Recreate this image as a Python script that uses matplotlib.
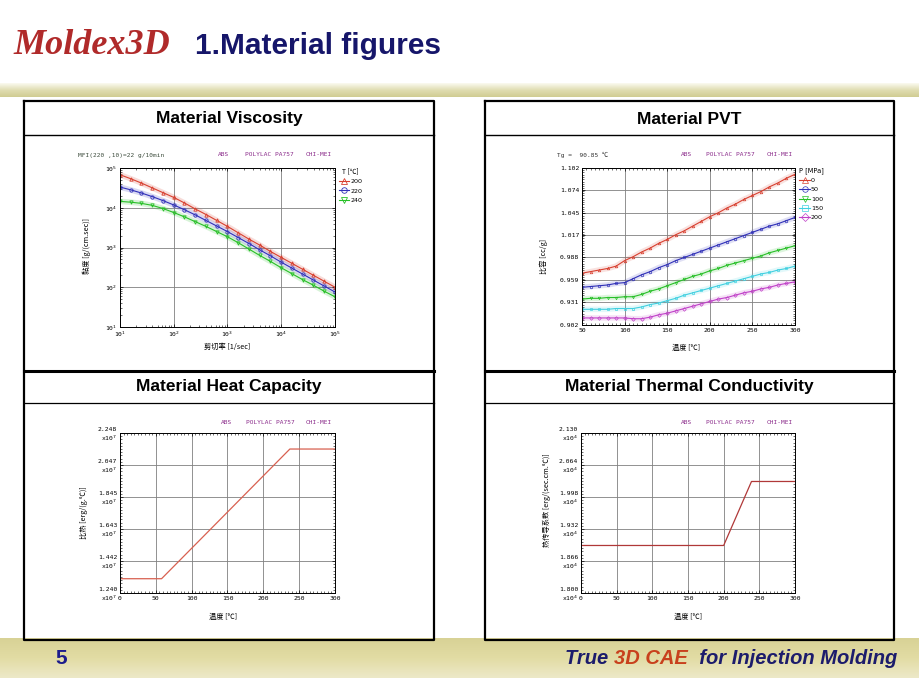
"""
Moldex3D material figures slide: viscosity, PVT, heat capacity, thermal conductivity.
"""

import numpy as np
import matplotlib
matplotlib.use("Agg")
import matplotlib.pyplot as plt
from matplotlib.colors import LinearSegmentedColormap
from matplotlib.ticker import AutoMinorLocator, FixedLocator

CJK = ['Noto Sans CJK SC', 'DejaVu Sans']
MONO = ['DejaVu Sans Mono', 'Noto Sans CJK SC']
PURPLE = '#8a2a8a'

# ---- viscosity (log10 values) ----
shear_rate_log = [1.0, 1.2, 1.4, 1.6, 1.8, 2.0, 2.2, 2.4, 2.6, 2.8, 3.0,
                  3.2, 3.4, 3.6, 3.8, 4.0, 4.2, 4.4, 4.6, 4.8, 5.0]
visc_200_log = [4.83, 4.73, 4.62, 4.50, 4.38, 4.26, 4.12, 3.97, 3.83, 3.68, 3.53,
                3.37, 3.21, 3.06, 2.90, 2.75, 2.60, 2.45, 2.30, 2.15, 2.00]
visc_220_log = [4.52, 4.45, 4.37, 4.28, 4.18, 4.07, 3.95, 3.82, 3.68, 3.54, 3.40,
                3.25, 3.10, 2.94, 2.79, 2.63, 2.48, 2.33, 2.18, 2.03, 1.88]
visc_240_log = [4.16, 4.14, 4.11, 4.06, 3.98, 3.88, 3.77, 3.65, 3.53, 3.40, 3.27,
                3.12, 2.96, 2.80, 2.65, 2.49, 2.34, 2.19, 2.05, 1.90, 1.76]
visc_temps = ['200', '220', '240']

# ---- PVT ----
pvt_temp = [50, 60, 70, 80, 90, 100, 110, 120, 130, 140, 150, 160, 170,
            180, 190, 200, 210, 220, 230, 240, 250, 260, 270, 280, 290, 300]
pvt_p0 = [0.968, 0.970, 0.972, 0.974, 0.977, 0.984, 0.989, 0.995, 1.000, 1.006,
          1.011, 1.017, 1.022, 1.028, 1.034, 1.040, 1.045, 1.051, 1.056, 1.062,
          1.067, 1.072, 1.078, 1.083, 1.089, 1.094]
pvt_p50 = [0.950, 0.951, 0.952, 0.953, 0.955, 0.956, 0.961, 0.966, 0.970, 0.975,
           0.979, 0.984, 0.988, 0.992, 0.996, 1.000, 1.004, 1.008, 1.012, 1.016,
           1.020, 1.024, 1.028, 1.031, 1.035, 1.039]
pvt_p100 = [0.935, 0.936, 0.936, 0.937, 0.937, 0.938, 0.938, 0.941, 0.945, 0.948,
            0.952, 0.956, 0.960, 0.964, 0.967, 0.971, 0.974, 0.978, 0.981, 0.984,
            0.987, 0.990, 0.994, 0.997, 1.000, 1.003]
pvt_p150 = [0.922, 0.922, 0.922, 0.922, 0.923, 0.923, 0.923, 0.925, 0.928, 0.930,
            0.933, 0.936, 0.940, 0.943, 0.946, 0.949, 0.952, 0.955, 0.958, 0.961,
            0.964, 0.967, 0.969, 0.972, 0.974, 0.977]
pvt_p200 = [0.911, 0.911, 0.911, 0.911, 0.911, 0.911, 0.910, 0.910, 0.912, 0.915,
            0.917, 0.920, 0.923, 0.926, 0.929, 0.932, 0.935, 0.937, 0.940, 0.943,
            0.945, 0.948, 0.950, 0.953, 0.955, 0.957]
pvt_pressures = ['0', '50', '100', '150', '200']
pvt_ticks = [0.902, 0.931, 0.959, 0.988, 1.017, 1.045, 1.074, 1.102]

# ---- heat capacity / conductivity ----
cp_temp = [0, 58, 237, 300]
cp_value = [1.330e7, 1.330e7, 2.147e7, 2.147e7]
cp_ticks = [1.240e7, 1.4416e7, 1.6432e7, 1.8448e7, 2.0464e7, 2.248e7]
cp_labels = ['1.240', '1.442', '1.643', '1.845', '2.047', '2.248']

k_temp = [0, 200, 239, 300]
k_value = [1.898e4, 1.898e4, 2.030e4, 2.030e4]
k_ticks = [1.800e4, 1.866e4, 1.932e4, 1.998e4, 2.064e4, 2.130e4]
k_labels = ['1.800', '1.866', '1.932', '1.998', '2.064', '2.130']

W, H = 920, 690


def px_axes(fig, x0, y0, x1, y1):
    return fig.add_axes([x0 / W, 1 - y1 / H, (x1 - x0) / W, (y1 - y0) / H])


def style_axes(ax, linear_x=True, linear_y=True):
    ax.tick_params(which='both', direction='in', top=True, right=True,
                   labelsize=4.6, pad=2, colors='black')
    ax.tick_params(which='major', length=2.5, width=0.5)
    ax.tick_params(which='minor', length=1.5, width=0.4)
    if linear_x:
        ax.xaxis.set_minor_locator(AutoMinorLocator(10))
    if linear_y:
        ax.yaxis.set_minor_locator(AutoMinorLocator(10))
    ax.grid(True, which='major', color='#808080', lw=0.6)
    for sp in ax.spines.values():
        sp.set_linewidth(0.7)
    for lab in ax.get_xticklabels() + ax.get_yticklabels():
        lab.set_family(MONO)


def band(ax, y0, y1, colors):
    cmap = LinearSegmentedColormap.from_list('band', colors)
    grad = np.linspace(0, 1, 64)[:, None]
    ax.imshow(grad, extent=(0, W, y1, y0), cmap=cmap, aspect='auto',
              origin='upper', zorder=0)


def header_text(ax, x_abs, x_poly, x_chi, y):
    ax.text(x_abs, y, 'ABS', color=PURPLE, fontsize=4.4, family=MONO, va='center')
    ax.text(x_poly, y, 'POLYLAC PA757', color=PURPLE, fontsize=4.4, family=MONO, va='center')
    ax.text(x_chi, y, 'CHI-MEI', color=PURPLE, fontsize=4.4, family=MONO, va='center')


fig = plt.figure(figsize=(9.2, 6.9), dpi=100)
bg = fig.add_axes([0, 0, 1, 1])
bg.set_axis_off()

# decorative bands
band(bg, 83, 97, ['#fbfaf0', '#e0ddb2', '#d0cc92'])
band(bg, 638, 678, ['#d8d296', '#e2dca4', '#ede9c8'])

# title + logo
bg.text(13, 46, 'Moldex3D', color='#b02a2a', fontsize=26, family='Liberation Serif',
        style='italic', weight='bold', va='center')
bg.text(195, 46, '1.Material figures', color='#16166a', fontsize=21.5,
        family='Liberation Sans', weight='bold', va='center')

# footer
bg.text(55, 659, '5', color='#1c1c8c', fontsize=15, family='Liberation Sans',
        weight='bold', va='center')
foot = [('True ', '#1c1c6c'), ('3D CAE', '#c8401c'), ('  for Injection Molding', '#1c1c6c')]
x = 565
for txt, col in foot:
    t = bg.text(x, 659, txt, color=col, fontsize=14.5, family='Liberation Sans',
                weight='bold', style='italic', va='center')
    fig.canvas.draw()
    x += t.get_window_extent().width

# panel frames
for x0, x1 in [(24, 434), (485, 894)]:
    bg.plot([x0, x1, x1, x0, x0], [101, 101, 640, 640, 101], color='black', lw=1.6, zorder=3)
    bg.plot([x0, x1], [371, 371], color='black', lw=2.2, zorder=3)
    bg.plot([x0, x1], [135, 135], color='black', lw=1.0, zorder=3)
    bg.plot([x0, x1], [403, 403], color='black', lw=0.9, zorder=3)

for title, xc, yc in [('Material Viscosity', 229, 119), ('Material PVT', 689, 119),
                      ('Material Heat Capacity', 229, 387),
                      ('Material Thermal Conductivity', 689, 387)]:
    bg.text(xc, yc, title, ha='center', va='center', fontsize=12.5,
            family='Liberation Sans', weight='bold', color='black')

# ---- viscosity ----
ax1 = px_axes(fig, 120, 168, 335, 327)
ax1.set_xscale('log')
ax1.set_yscale('log')
xs = 10 ** np.array(shear_rate_log)
for vals, col, mk, lab in [(visc_200_log, '#d84030', '^', visc_temps[0]),
                           (visc_220_log, '#3030b8', 'o', visc_temps[1]),
                           (visc_240_log, '#28c028', 'v', visc_temps[2])]:
    ys = 10 ** np.array(vals)
    ax1.plot(xs, ys, color=col, lw=4, alpha=0.18, solid_capstyle='round')
    ax1.plot(xs, ys, color=col, lw=0.8, marker=mk, ms=2.4, mfc='none', mew=0.6, label=lab)
ax1.set_xlim(10, 1e5)
ax1.set_ylim(10, 1e5)
style_axes(ax1, linear_x=False, linear_y=False)
leg = ax1.legend(title='T [℃]', loc='upper left', bbox_to_anchor=(1.0, 1.03),
                 frameon=False, fontsize=4.6, title_fontsize=4.8, handlelength=1.6,
                 handletextpad=0.2, labelspacing=0.6, borderaxespad=0.2)
leg.get_title().set_family(CJK)
for h in leg.legend_handles:
    h.set_markersize(4)
bg.text(78, 155, 'MFI(220 ,10)=22 g/10min', color='#3a4a3a', fontsize=4.4,
        family=MONO, va='center')
header_text(bg, 218, 245, 306, 155)
bg.text(227, 347, '剪切率 [1/sec]', fontsize=5.2, family=CJK, ha='center', va='center')
bg.text(87, 246, '黏度 [g/(cm.sec)]', fontsize=5.2, family=CJK, ha='center',
        va='center', rotation=90)

# ---- PVT ----
ax2 = px_axes(fig, 582, 168, 795, 325)
pvt_series = [pvt_p0, pvt_p50, pvt_p100, pvt_p150, pvt_p200]
pvt_colors = ['#d84030', '#3030b8', '#28c028', '#40d0e0', '#c040c8']
pvt_markers = ['^', 'o', 'v', 's', 'D']
for vals, col, mk, lab in zip(pvt_series, pvt_colors, pvt_markers, pvt_pressures):
    ax2.plot(pvt_temp, vals, color=col, lw=4, alpha=0.15, solid_capstyle='round')
    ax2.plot(pvt_temp, vals, color=col, lw=0.8, marker=mk, ms=1.8, mfc='none', mew=0.5,
             label=lab)
ax2.set_xlim(50, 300)
ax2.set_ylim(pvt_ticks[0], pvt_ticks[-1])
ax2.set_xticks([50, 100, 150, 200, 250, 300])
ax2.yaxis.set_major_locator(FixedLocator(pvt_ticks))
ax2.set_yticklabels([f'{v:.3f}' for v in pvt_ticks])
style_axes(ax2)
leg2 = ax2.legend(title='P [MPa]', loc='upper left', bbox_to_anchor=(1.0, 1.03),
                  frameon=False, fontsize=4.6, title_fontsize=4.8, handlelength=1.6,
                  handletextpad=0.2, labelspacing=0.6, borderaxespad=0.2)
for h in leg2.legend_handles:
    h.set_markersize(4)
bg.text(557, 155, 'Tg =  90.85 ℃', color='#303030', fontsize=4.4, family=MONO,
        va='center')
header_text(bg, 681, 706, 767, 155)
bg.text(686, 348, '温度 [℃]', fontsize=5.2, family=CJK, ha='center', va='center')
bg.text(544, 256, '比容 [cc/g]', fontsize=5.2, family=CJK, ha='center', va='center',
        rotation=90)

# ---- heat capacity ----
ax3 = px_axes(fig, 120, 433, 335, 593)
ax3.plot(cp_temp, cp_value, color='#d86050', lw=0.9)
ax3.set_xlim(0, 300)
ax3.set_ylim(cp_ticks[0], cp_ticks[-1])
ax3.set_xticks([0, 50, 100, 150, 200, 250, 300])
ax3.yaxis.set_major_locator(FixedLocator(cp_ticks))
ax3.set_yticklabels([f'{s}\nx10$^{{7}}$' for s in cp_labels])
style_axes(ax3)
header_text(bg, 221, 246, 306, 423)
bg.text(223, 617, '温度 [℃]', fontsize=5.2, family=CJK, ha='center', va='center')
bg.text(84, 513, '比热 [erg/(g.℃)]', fontsize=5.2, family=CJK, ha='center',
        va='center', rotation=90)

# ---- thermal conductivity ----
ax4 = px_axes(fig, 581, 433, 795, 593)
ax4.plot(k_temp, k_value, color='#b03838', lw=0.9)
ax4.set_xlim(0, 300)
ax4.set_ylim(k_ticks[0], k_ticks[-1])
ax4.set_xticks([0, 50, 100, 150, 200, 250, 300])
ax4.yaxis.set_major_locator(FixedLocator(k_ticks))
ax4.set_yticklabels([f'{s}\nx10$^{{4}}$' for s in k_labels])
style_axes(ax4)
header_text(bg, 681, 706, 767, 423)
bg.text(688, 617, '温度 [℃]', fontsize=5.2, family=CJK, ha='center', va='center')
bg.text(547, 500, '热传导系数 [erg/(sec.cm.℃)]', fontsize=5.2, family=CJK,
        ha='center', va='center', rotation=90)

bg.set_xlim(0, W)
bg.set_ylim(H, 0)

fig.savefig('out.png', dpi=100)
